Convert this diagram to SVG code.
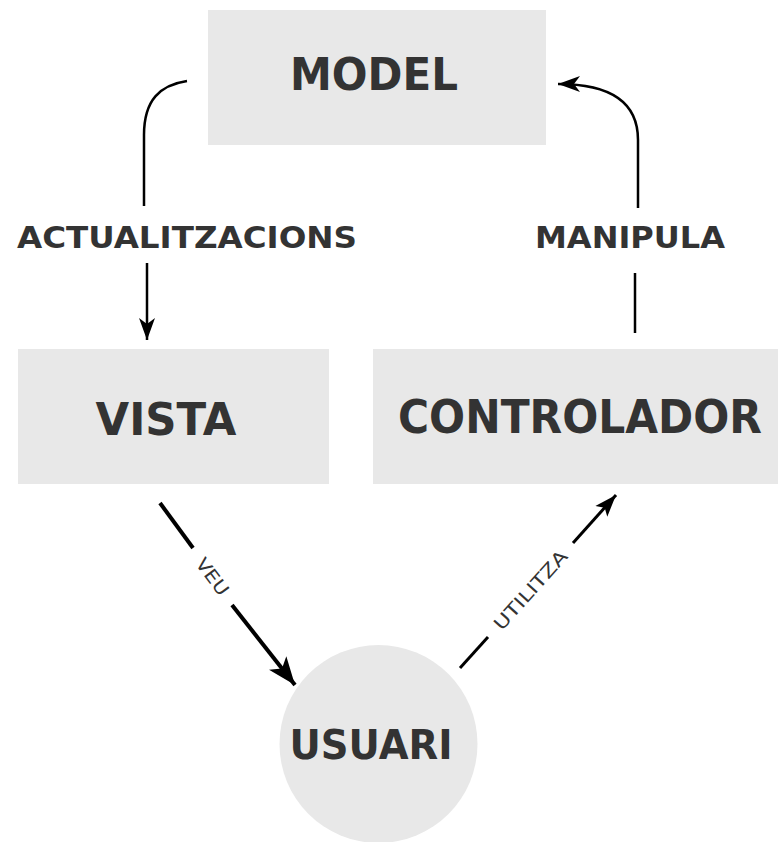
<svg xmlns="http://www.w3.org/2000/svg" width="778" height="842" viewBox="0 0 778 842">
<style>
.box{fill:#e8e8e8}
.big{font-family:"DejaVu Sans","Liberation Sans",sans-serif;font-weight:bold;fill:#333333;text-anchor:middle}
.lab{font-family:"DejaVu Sans","Liberation Sans",sans-serif;fill:#333333;text-anchor:middle}
.ln{fill:none;stroke:#000;stroke-width:2.5}
</style>
<defs>
<marker id="ah" markerUnits="userSpaceOnUse" markerWidth="24" markerHeight="18" viewBox="0 0 24 18" refX="22" refY="9" orient="auto">
<path d="M0,1 L22,9 L0,17 L6,9 z" fill="#000"/>
</marker>
<marker id="ahb" markerUnits="userSpaceOnUse" markerWidth="30" markerHeight="24" viewBox="0 0 30 24" refX="28" refY="12" orient="auto">
<path d="M0,1 L28,12 L0,23 L7,12 z" fill="#000"/>
</marker>
<marker id="ahs" markerUnits="userSpaceOnUse" markerWidth="24" markerHeight="20" viewBox="0 0 24 20" refX="22" refY="10" orient="auto">
<path d="M0,2 L22,10 L0,18 L5,10 z" fill="#000"/>
</marker>
</defs>
<rect width="778" height="842" fill="#ffffff"/>
<g id="model">
<rect class="box" x="208" y="10" width="338" height="135"/>
<text class="big" x="374" y="90" font-size="45" textLength="168" lengthAdjust="spacingAndGlyphs">MODEL</text>
</g>
<g id="vista">
<rect class="box" x="18" y="349" width="311" height="135"/>
<text class="big" x="166" y="435" font-size="44" textLength="141" lengthAdjust="spacingAndGlyphs">VISTA</text>
</g>
<g id="controlador">
<rect class="box" x="373" y="349" width="405" height="135"/>
<text class="big" x="580" y="433" font-size="46" textLength="364" lengthAdjust="spacingAndGlyphs">CONTROLADOR</text>
</g>
<g id="usuari">
<circle class="box" cx="378.5" cy="744" r="99"/>
<text class="big" x="371" y="759" font-size="40" textLength="163" lengthAdjust="spacingAndGlyphs">USUARI</text>
</g>
<g id="connectors">
<path class="ln" d="M187,81 C160,85 144,100 144,135 L144,206"/>
<text class="big" x="187" y="248" font-size="30" textLength="340" lengthAdjust="spacingAndGlyphs">ACTUALITZACIONS</text>
<path class="ln" d="M147,263 L147,340" marker-end="url(#ah)"/>
<path class="ln" d="M635,333 L635,273"/>
<text class="big" x="630" y="248" font-size="30" textLength="190" lengthAdjust="spacingAndGlyphs">MANIPULA</text>
<path class="ln" d="M638,208 L638,140 C638,105 615,84 558,84" marker-end="url(#ah)"/>
<path class="ln" style="stroke-width:4" d="M160,503 L193,548"/>
<text class="lab" transform="translate(212.5,576.5) rotate(53)" y="6.5" font-size="18" textLength="42" lengthAdjust="spacingAndGlyphs">VEU</text>
<path class="ln" style="stroke-width:4" d="M232,605 L295,685" marker-end="url(#ahb)"/>
<path class="ln" style="stroke-width:3" d="M460,668 L488,637"/>
<text class="lab" transform="translate(530.5,590) rotate(-48)" y="6.5" font-size="18" textLength="100" lengthAdjust="spacingAndGlyphs">UTILITZA</text>
<path class="ln" style="stroke-width:3" d="M573,543 L616,495" marker-end="url(#ahs)"/>
</g>
</svg>
